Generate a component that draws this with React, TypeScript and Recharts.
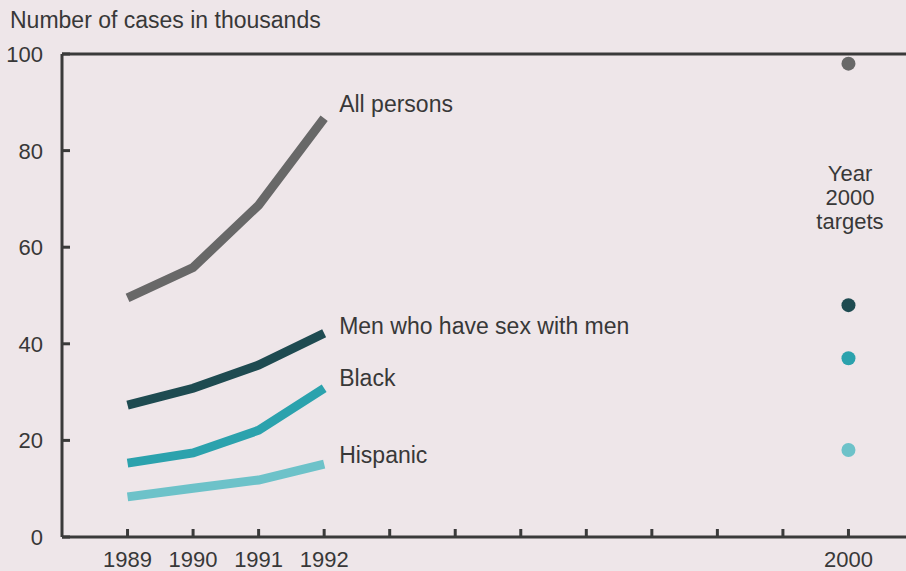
import { ComposedChart, Line, Scatter, XAxis, YAxis, ReferenceLine } from "recharts";

// values in thousands of cases
const years = [1989, 1990, 1991, 1992];
const allPersons = [49.5, 55.8, 68.7, 86.7];
const menWithMen = [27.3, 30.8, 35.6, 42.2];
const black = [15.3, 17.4, 22.1, 30.8];
const hispanic = [8.3, 10.1, 11.8, 15.1];

const seriesNames = ["All persons", "Men who have sex with men", "Black", "Hispanic"];
const targetYear = 2000;
const targetValues = [98, 48, 37, 18];

const yTicks = [0, 20, 40, 60, 80, 100];
const xTicks = [1989, 1990, 1991, 1992, 1993, 1994, 1995, 1996, 1997, 1998, 1999, 2000];
const xLabelled = [1989, 1990, 1991, 1992, 2000];

const seriesValues = [allPersons, menWithMen, black, hispanic];
const colors = ["#686868", "#1e4b51", "#2ba2ad", "#6dc2c9"];
const labelDy = [-6, 1, -2, -1];

const FONT = '"Liberation Sans", Arial, Helvetica, sans-serif';
const INK = "#383838";
const AXIS = "#3a3a3a";
const BG = "#eee6e9";

const rows = years.map((year, i) => {
  const row: Record<string, number> = { year };
  seriesValues.forEach((vals, s) => {
    row[`s${s}`] = vals[i];
  });
  return row;
});

function YTick(props: any) {
  const { x, y, payload } = props;
  return (
    <g>
      <line x1={x} x2={x + 8} y1={y} y2={y} stroke={AXIS} strokeWidth={3} />
      <text x={x - 19} y={y} dy="0.36em" textAnchor="end" fontSize={22} fontFamily={FONT} fill={INK}>
        {payload.value}
      </text>
    </g>
  );
}

function XTick(props: any) {
  const { x, y, payload } = props;
  return (
    <g>
      <line x1={x} x2={x} y1={y} y2={y - 8} stroke={AXIS} strokeWidth={3} />
      {xLabelled.includes(payload.value) && (
        <text x={x} y={y + 30} textAnchor="middle" fontSize={22} fontFamily={FONT} fill={INK}>
          {payload.value}
        </text>
      )}
    </g>
  );
}

export default function App() {
  const last = years.length - 1;
  return (
    <div
      style={{
        position: "absolute",
        left: 0,
        top: 0,
        width: 906,
        height: 571,
        overflow: "hidden",
        background: BG,
        fontFamily: FONT,
        color: INK,
      }}
    >
      <ComposedChart width={914} height={571} data={rows} margin={{ top: 54, right: 0, bottom: 0, left: 0 }}>
        <XAxis
          dataKey="year"
          type="number"
          domain={[1988, 2001]}
          ticks={xTicks}
          interval={0}
          height={34}
          tickSize={0}
          tickMargin={0}
          tickLine={false}
          axisLine={{ stroke: AXIS, strokeWidth: 3 }}
          tick={<XTick />}
        />
        <YAxis
          type="number"
          domain={[0, 100]}
          ticks={yTicks}
          width={62}
          tickSize={0}
          tickMargin={0}
          tickLine={false}
          axisLine={{ stroke: AXIS, strokeWidth: 3 }}
          tick={<YTick />}
        />
        <ReferenceLine y={100} stroke={AXIS} strokeWidth={3} />
        {seriesNames.map((name, s) => (
          <Line
            key={name}
            dataKey={`s${s}`}
            type="linear"
            stroke={colors[s]}
            strokeWidth={9}
            isAnimationActive={false}
            activeDot={false}
            dot={(p: any) =>
              p.index === last ? (
                <text
                  key={`lbl-${s}`}
                  x={p.cx + 15}
                  y={p.cy + labelDy[s]}
                  fontSize={23}
                  fontFamily={FONT}
                  fill={INK}
                >
                  {name}
                </text>
              ) : (
                <g key={`d-${s}-${p.index}`} />
              )
            }
          />
        ))}
        {seriesNames.map((name, s) => (
          <Scatter
            key={`t-${name}`}
            data={[{ year: targetYear, value: targetValues[s] }]}
            dataKey="value"
            isAnimationActive={false}
            shape={(p: any) => <circle cx={p.cx} cy={p.cy} r={7} fill={colors[s]} />}
          />
        ))}
      </ComposedChart>
      <div style={{ position: "absolute", left: 10, top: 9, fontSize: 23, lineHeight: "23px" }}>
        Number of cases in thousands
      </div>
      <div
        style={{
          position: "absolute",
          left: 790,
          top: 162,
          width: 120,
          textAlign: "center",
          fontSize: 22,
          lineHeight: "24px",
        }}
      >
        Year
        <br />
        2000
        <br />
        targets
      </div>
    </div>
  );
}
